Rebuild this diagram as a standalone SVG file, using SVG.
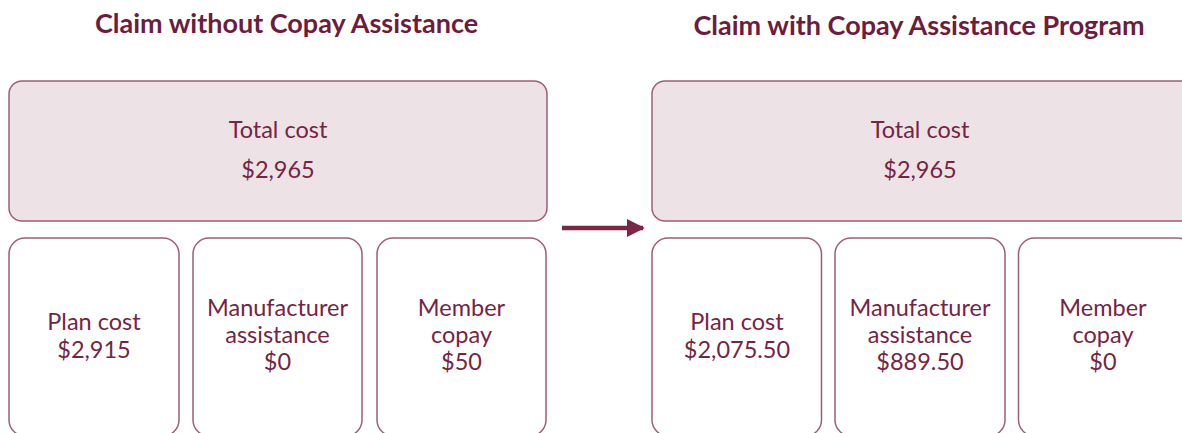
<svg xmlns="http://www.w3.org/2000/svg" width="1182" height="433" viewBox="0 0 1182 433">
<defs>
<style>
.title{font-family:Lato,"Liberation Sans",sans-serif;font-weight:bold;font-size:27px;fill:#6e1c3c;text-anchor:middle}
.lbl{font-family:Lato,"Liberation Sans",sans-serif;font-size:23.5px;fill:#762443;text-anchor:middle}
.top{fill:#ede3e7;stroke:#9d5f76;stroke-width:1.5}
.box{fill:#ffffff;stroke:#9d5f76;stroke-width:1.5}
</style>
<marker id="ah" markerWidth="4" markerHeight="4" refX="3.6" refY="2" orient="auto" markerUnits="strokeWidth">
<path d="M0,0 L4,2 L0,4 Z" fill="#7a2746"/>
</marker>
</defs>
<rect width="1182" height="433" fill="#ffffff"/>
<text class="title" x="286.5" y="33">Claim without Copay Assistance</text>
<text class="title" x="919" y="35">Claim with Copay Assistance Program</text>

<g id="left-total">
<rect class="top" x="9" y="81" width="538" height="140" rx="13"/>
<text class="lbl" x="278" y="138">Total cost</text>
<text class="lbl" x="278" y="178">$2,965</text>
</g>
<g id="left-plan">
<rect class="box" x="9" y="238" width="170" height="198" rx="16"/>
<text class="lbl" x="94" y="330">Plan cost</text>
<text class="lbl" x="94" y="358">$2,915</text>
</g>
<g id="left-manufacturer">
<rect class="box" x="193" y="238" width="169" height="198" rx="16"/>
<text class="lbl" x="277.5" y="316">Manufacturer</text>
<text class="lbl" x="277.5" y="343">assistance</text>
<text class="lbl" x="277.5" y="370">$0</text>
</g>
<g id="left-member">
<rect class="box" x="377" y="238" width="169" height="198" rx="16"/>
<text class="lbl" x="461.5" y="316">Member</text>
<text class="lbl" x="461.5" y="343">copay</text>
<text class="lbl" x="461.5" y="370">$50</text>
</g>

<g id="right-total">
<rect class="top" x="652" y="81" width="545" height="140" rx="13"/>
<text class="lbl" x="920" y="138">Total cost</text>
<text class="lbl" x="920" y="178">$2,965</text>
</g>
<g id="right-plan">
<rect class="box" x="652" y="238" width="169.5" height="198" rx="16"/>
<text class="lbl" x="737" y="330">Plan cost</text>
<text class="lbl" x="737" y="358">$2,075.50</text>
</g>
<g id="right-manufacturer">
<rect class="box" x="835" y="238" width="170" height="198" rx="16"/>
<text class="lbl" x="920" y="316">Manufacturer</text>
<text class="lbl" x="920" y="343">assistance</text>
<text class="lbl" x="920" y="370">$889.50</text>
</g>
<g id="right-member">
<rect class="box" x="1018.5" y="238" width="175" height="198" rx="16"/>
<text class="lbl" x="1103" y="316">Member</text>
<text class="lbl" x="1103" y="343">copay</text>
<text class="lbl" x="1103" y="370">$0</text>
</g>

<g id="connectors">
<line x1="562" y1="228" x2="643" y2="228" stroke="#7a2746" stroke-width="4.5" marker-end="url(#ah)"/>
</g>
</svg>
